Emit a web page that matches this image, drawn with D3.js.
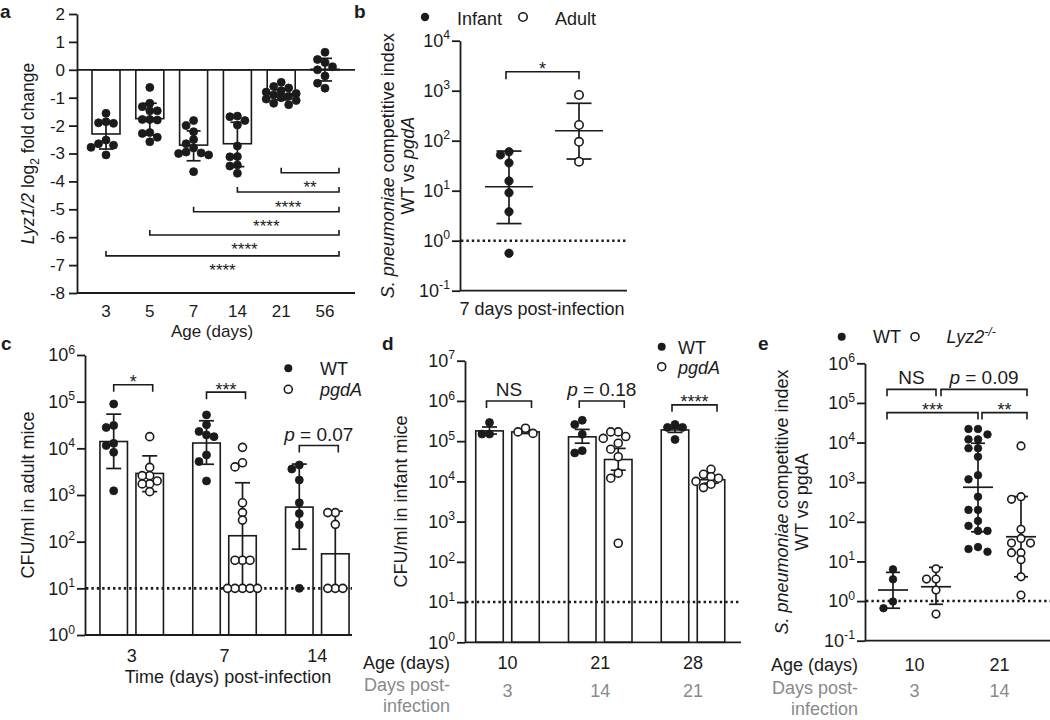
<!DOCTYPE html>
<html><head><meta charset="utf-8">
<script src="https://cdn.jsdelivr.net/npm/d3@7"></script>
<style>
body{margin:0;background:#fff;}
svg{font-family:"Liberation Sans",Arial,Helvetica,sans-serif;}
text{white-space:pre;}
</style></head><body>
<svg id="chart" width="1050" height="720"></svg>
<script>
// ================= DATA =================
// Panel a: Lyz1/2 log2 fold change by age
const aAges = ["3","5","7","14","21","56"];
const aMean = [-2.3,-1.75,-2.7,-2.65,-0.87,0.02];
const aSdHigh = [-1.9,-1.2,-2.19,-1.88,-0.72,0.41];
const aSdLow = [-2.84,-2.34,-3.26,-3.47,-1.08,-0.4];
const aPoints = [
  [-1.56,-1.86,-1.9,-1.92,-2.52,-2.65,-2.7,-2.78,-3.05],
  [-0.63,-1.2,-1.32,-1.47,-1.47,-1.78,-1.78,-1.8,-2.25,-2.28,-2.42,-2.58],
  [-1.82,-2.0,-2.22,-2.5,-2.65,-2.8,-2.95,-2.98,-3.0,-3.05,-3.65],
  [-1.66,-1.68,-1.82,-1.98,-2.73,-3.11,-3.12,-3.41,-3.45,-3.71],
  [-0.45,-0.6,-0.65,-0.75,-0.8,-0.85,-0.9,-0.95,-1.0,-1.05,-1.1,-1.2,-1.25],
  [0.63,0.37,0.26,0.11,0,-0.22,-0.48,-0.66]
];
const aCompFrom = ["21","14","7","5","3"];
const aCompTo = "56";
const aCompLabel = ["**","****","****","****","****"];
const aCompY = [-3.69,-4.38,-5.09,-5.92,-6.67];
const aTicks = [-8,-7,-6,-5,-4,-3,-2,-1,0,1,2];

// Panel b: competitive index at 7 days post-infection
const bGroups = ["Infant","Adult"];
const bMean = [12,158];
const bHigh = [62,560];
const bLow = [2.2,43];
const bPoints = [[60,52,36,15.6,9.1,3.8,0.56],[820,206,95,38]];
const bSigLabel = "*";
const bSigY = 2400;
const bExp = [-1,0,1,2,3,4];

// Panel c: CFU/ml in adult mice
const cDays = ["3","7","14"];
const cSeries = ["WT","pgdA"];
const cBar = {WT:[1.4e4,1.3e4,550], pgdA:[2900,134,55]};
const cHigh = {WT:[5.4e4,3.9e4,4600], pgdA:[6900,1830,450]};
const cLow = {WT:[3700,4560,69], pgdA:[1180,10,10]};
const cPoints = {
  WT:[[8.9e4,3.1e4,2.8e4,1.28e4,1.15e4,8200,1230],
      [5.2e4,3.2e4,2.3e4,1.94e4,1.78e4,7200,5200,2000],
      [4400,3600,2100,680,400,230,10]],
  pgdA:[[1.78e4,3900,2600,2600,2000,1730,1730,1180],
        [1.05e4,4900,4000,680,420,290,40,40,40,10,10,10,10,10],
        [420,420,235,10,10,10]]
};
const cSigLabel = ["*","***","p = 0.07"];
const cSigY = [2.3e5,1.6e5,1.15e4];
const cExp = [0,1,2,3,4,5,6];

// Panel d: CFU/ml in infant mice
const dAges = ["10","21","28"];
const dDpi = ["3","14","21"];
const dBar = {WT:[1.8e5,1.28e5,1.9e5], pgdA:[1.7e5,3.5e4,1.1e4]};
const dHigh = {WT:[2.25e5,1.96e5,2.1e5], pgdA:[1.85e5,6.6e4,1.3e4]};
const dLow = {WT:[1.5e5,8.9e4,1.65e5], pgdA:[1.55e5,1.9e4,9e3]};
const dPoints = {
  WT:[[2.9e5,1.5e5,1.5e5],[3.3e5,2.6e5,1.48e5,5.8e4,5.1e4],[2.6e5,2.2e5,2.2e5,1.1e5]],
  pgdA:[[2.1e5,1.7e5,1.56e5],[1.7e5,1.7e5,1.3e5,1.17e5,8.9e4,6.3e4,4.1e4,1.6e4,1.2e4,290],
        [2.0e4,1.5e4,1.3e4,1.2e4,1.0e4,8.5e3,7e3]]
};
const dSigLabel = ["NS","p = 0.18","****"];
const dSigY = [1e6,1e6,8e5];
const dExp = [0,1,2,3,4,5,6,7];

// Panel e: competitive index WT vs Lyz2-/-
const eAges = ["10","21"];
const eDpi = ["3","14"];
const eSeries = ["WT","Lyz2"];
const eMean = {WT:[1.9,745], Lyz2:[2.3,42]};
const eHigh = {WT:[5.3,9600], Lyz2:[7.1,435]};
const eLow = {WT:[0.66,56], Lyz2:[0.83,4.1]};
const ePoints = {
  WT:[[6.3,3.55,0.97,0.66],
      [2.2e4,2.2e4,1.6e4,1.2e4,1.2e4,7200,7200,4400,1500,1180,430,200,200,105,79,59,59,23,20.6,17.6]],
  Lyz2:[[6.5,3.6,3.6,1.9,0.47],
        [8200,430,370,65,38,29,29,16.6,16.6,11,4.1,1.42]]
};
const eComps = [
  {a:["WT","10"], b:["Lyz2","10"], label:"NS", y:2.2e5},
  {a:["Lyz2","10"], b:["Lyz2","21"], label:"p = 0.09", y:2.2e5},
  {a:["WT","10"], b:["WT","21"], label:"***", y:5.7e4},
  {a:["WT","21"], b:["Lyz2","21"], label:"**", y:5.7e4}
];
const eExp = [-1,0,1,2,3,4,5,6];

// ================= DRAWING =================
const INK = "#1b1b1b";
const GRAY = "#8a8a8a";
const FS = 18;
const svg = d3.select("#chart");
svg.append("rect").attr("width",1050).attr("height",720).attr("fill","#fff");

function rich(g, parts, size) {
  const t = g.append("text").attr("font-size", size).attr("fill", INK);
  let shift = 0;
  parts.forEach(p => {
    const s = (typeof p === "string") ? {t:p} : p;
    const target = s.sup ? -0.4*size : (s.sub ? 0.3*size : 0);
    const ts = t.append("tspan").text(s.t);
    if (target !== shift) { ts.attr("dy", target - shift); shift = target; }
    if (s.sup || s.sub) ts.attr("font-size", size*0.68);
    if (s.i) ts.attr("font-style","italic");
  });
  return t;
}
function sigParts(label) {
  if (label.startsWith("p ")) return [{t:"p",i:true}, label.slice(1)];
  return [label];
}
function line(g, x1, y1, x2, y2, w) {
  return g.append("line").attr("x1",x1).attr("y1",y1).attr("x2",x2).attr("y2",y2)
    .attr("stroke",INK).attr("stroke-width",w||1.7);
}
function styleAxis(ax) {
  ax.attr("font-size",null).attr("font-family",null);
  ax.select(".domain").attr("stroke",INK).attr("stroke-width",1.8);
  ax.selectAll(".tick line").attr("stroke",INK).attr("stroke-width",1.8);
  ax.selectAll(".tick text").attr("fill",INK);
}
function logAxis(g, y, x0, exps, size) {
  const axis = d3.axisLeft(y).tickValues(exps.map(e => Math.pow(10,e)))
    .tickSize(8).tickSizeOuter(0).tickPadding(2).tickFormat(() => "");
  const ax = g.append("g").attr("transform",`translate(${x0},0)`).call(axis);
  styleAxis(ax);
  ax.selectAll(".tick text").each(function(d) {
    const t = d3.select(this).attr("font-size", size);
    const e = Math.round(Math.log10(d));
    t.append("tspan").text("10");
    t.append("tspan").attr("font-size", size*0.68).attr("dy", -0.42*size).text(String(e));
  });
  return ax;
}
function swarm(vals, yFn, cx, r, step, maxK) {
  const sorted = vals.slice().sort((p,q) => q - p);
  const placed = [];
  const offs = [0];
  for (let k = 1; k <= maxK; k++) { offs.push(-k*step, k*step); }
  sorted.forEach(v => {
    const y = yFn(v);
    let best = null, bestD = -1;
    for (const o of offs) {
      let md = Infinity;
      placed.forEach(p => { const dd = Math.hypot(p.x-(cx+o), p.y-y); if (dd < md) md = dd; });
      if (md >= 2*r*0.92) { best = o; bestD = md; break; }
      if (md > bestD) { bestD = md; best = o; }
    }
    placed.push({x:cx+best, y:y, v:v});
  });
  return placed;
}
function dots(g, pts, r, filled) {
  g.selectAll(null).data(pts).join("circle")
    .attr("cx", d => d.x).attr("cy", d => d.y).attr("r", r)
    .attr("fill", filled ? INK : "#fff")
    .attr("stroke", INK).attr("stroke-width", filled ? 0.8 : 1.6);
}
function errBar(g, x, yHi, yLo, cap) {
  line(g, x, yHi, x, yLo);
  line(g, x-cap/2, yHi, x+cap/2, yHi);
  line(g, x-cap/2, yLo, x+cap/2, yLo);
}
function bracket(g, x1, x2, y, dir, h) {
  g.append("path").attr("d",`M${x1},${y+dir*h}L${x1},${y}L${x2},${y}L${x2},${y+dir*h}`)
    .attr("fill","none").attr("stroke",INK).attr("stroke-width",1.6);
}
function sigLabel(g, label, x, y, size) {
  const isStar = /^\*+$/.test(label);
  const t = rich(g, sigParts(label), size).attr("text-anchor","middle");
  t.attr("x", x).attr("y", isStar ? y + 3.5 : y - 5);
  return t;
}
function dotted(g, x1, x2, y) {
  line(g, x1, y, x2, y, 2.6).attr("stroke-dasharray","2.4,3").attr("stroke",INK);
}
function panelLabel(txt, x, y) {
  svg.append("text").attr("x",x).attr("y",y).attr("font-size",19).attr("font-weight","bold")
    .attr("fill",INK).text(txt);
}

// ---------- Panel a ----------
{
  const g = svg.append("g");
  const y = d3.scaleLinear().domain([-8,2]).range([293,14]);
  const x = d3.scalePoint().domain(aAges).range([106,325]);
  const bw = 28;
  const ax = g.append("g").attr("transform","translate(77,0)")
    .call(d3.axisLeft(y).tickValues(aTicks).tickSize(8).tickSizeOuter(0).tickPadding(4).tickFormat(d => String(d)));
  styleAxis(ax);
  ax.selectAll(".tick text").attr("font-size",17);
  line(g, 77, 293, 355, 293, 1.8);
  g.selectAll(null).data(aAges).join("rect")
    .attr("x", d => x(d) - bw/2).attr("width", bw)
    .attr("y", (d,i) => Math.min(y(0), y(aMean[i])))
    .attr("height", (d,i) => Math.abs(y(aMean[i]) - y(0)))
    .attr("fill","#fff").attr("stroke",INK).attr("stroke-width",1.6);
  line(g, 77, y(0), 355, y(0), 1.8);
  aAges.forEach((c,i) => errBar(g, x(c), y(aSdHigh[i]), y(aSdLow[i]), 14));
  aAges.forEach((c,i) => dots(g, swarm(aPoints[i], y, x(c), 4, 7.5, 2), 4, true));
  aCompFrom.forEach((f,i) => {
    const x1 = x(f), x2 = x(aCompTo) + bw/2, yy = y(aCompY[i]);
    bracket(g, x1, x2, yy, -1, 5);
    g.append("text").attr("x",(x1+x2)/2).attr("y",yy+20.5).attr("text-anchor","middle")
      .attr("font-size",17).attr("fill",INK).text(aCompLabel[i]);
  });
  g.selectAll(null).data(aAges).join("text").attr("x", d => x(d)).attr("y",317)
    .attr("text-anchor","middle").attr("font-size",17).attr("fill",INK).text(d => d);
  g.append("text").attr("x",212).attr("y",337).attr("text-anchor","middle")
    .attr("font-size",17).attr("fill",INK).text("Age (days)");
  rich(g, [{t:"Lyz1/2",i:true}," log",{t:"2",sub:true}," fold change"], 17.5)
    .attr("text-anchor","middle").attr("transform","translate(33.5,153.5) rotate(-90)");
  panelLabel("a", 0, 18);
}

// ---------- Panel b ----------
{
  const g = svg.append("g");
  const y = d3.scaleLog().domain([0.1,1e4]).range([290.7,40.7]);
  const x = d3.scalePoint().domain(bGroups).range([509,579]);
  logAxis(g, y, 460, bExp, FS);
  line(g, 460, 290.7, 627, 290.7, 1.8);
  dotted(g, 461, 627, y(1));
  bGroups.forEach((c,i) => {
    errBar(g, x(c), y(bHigh[i]), y(bLow[i]), 25);
    line(g, x(c)-24, y(bMean[i]), x(c)+24, y(bMean[i]));
    dots(g, swarm(bPoints[i], y, x(c), 4.2, 8.5, 2), 4.2, i === 0);
  });
  const x1 = x("Infant") - 3, x2 = x("Adult");
  bracket(g, x1, x2, y(bSigY), 1, 7.5);
  sigLabel(g, bSigLabel, (x1+x2)/2, y(bSigY), FS);
  g.append("text").attr("x",542).attr("y",314.5).attr("text-anchor","middle")
    .attr("font-size",FS).attr("fill",INK).text("7 days post-infection");
  rich(g, [{t:"S. pneumoniae",i:true}," competitive index"], FS)
    .attr("text-anchor","middle").attr("transform","translate(393.5,165.7) rotate(-90)");
  rich(g, ["WT vs ",{t:"pgdA",i:true}], FS)
    .attr("text-anchor","middle").attr("transform","translate(413.5,165.7) rotate(-90)");
  // legend
  g.append("circle").attr("cx",425).attr("cy",17).attr("r",4.2).attr("fill",INK);
  g.append("text").attr("x",457).attr("y",24.5).attr("font-size",FS).attr("fill",INK).text(bGroups[0]);
  g.append("circle").attr("cx",523).attr("cy",17).attr("r",4.2).attr("fill","#fff").attr("stroke",INK).attr("stroke-width",1.6);
  g.append("text").attr("x",555).attr("y",24.5).attr("font-size",FS).attr("fill",INK).text(bGroups[1]);
  panelLabel("b", 354, 18);
}

// ---------- Panel c ----------
{
  const g = svg.append("g");
  const y = d3.scaleLog().domain([1,1e6]).range([635,355]);
  const x = d3.scalePoint().domain(cDays).range([131.7,317.3]);
  const sub = d3.scalePoint().domain(cSeries).range([-18,18]);
  const bw = 27.5;
  logAxis(g, y, 85, cExp, FS);
  cSeries.forEach(s => {
    g.selectAll(null).data(cDays).join("rect")
      .attr("x", d => x(d) + sub(s) - bw/2).attr("width", bw)
      .attr("y", (d,i) => y(cBar[s][i])).attr("height", (d,i) => y(1) - y(cBar[s][i]))
      .attr("fill","#fff").attr("stroke",INK).attr("stroke-width",1.6);
  });
  line(g, 85, 635, 352, 635, 1.8);
  dotted(g, 86, 352, y(10));
  cSeries.forEach((s,si) => cDays.forEach((c,i) => {
    const cx = x(c) + sub(s);
    errBar(g, cx, y(cHigh[s][i]), y(cLow[s][i]), 15);
    dots(g, swarm(cPoints[s][i], y, cx, 4, 7.5, 2), 4, si === 0);
  }));
  cDays.forEach((c,i) => {
    const x1 = x(c) + sub("WT"), x2 = x(c) + sub("pgdA") + 3, yy = y(cSigY[i]);
    bracket(g, x1, x2, yy, 1, 7);
    sigLabel(g, cSigLabel[i], (x1+x2)/2, yy, cSigLabel[i].startsWith("p") ? 19 : FS);
  });
  g.selectAll(null).data(cDays).join("text").attr("x", d => x(d)).attr("y",662)
    .attr("text-anchor","middle").attr("font-size",FS).attr("fill",INK).text(d => d);
  g.append("text").attr("x",228).attr("y",683).attr("text-anchor","middle")
    .attr("font-size",FS).attr("fill",INK).text("Time (days) post-infection");
  g.append("text").attr("text-anchor","middle").attr("font-size",FS).attr("fill",INK)
    .attr("transform","translate(33.5,495) rotate(-90)").text("CFU/ml in adult mice");
  g.append("circle").attr("cx",288.3).attr("cy",368.3).attr("r",4).attr("fill",INK);
  g.append("text").attr("x",320).attr("y",375).attr("font-size",FS).attr("fill",INK).text("WT");
  g.append("circle").attr("cx",288.3).attr("cy",389.3).attr("r",4).attr("fill","#fff").attr("stroke",INK).attr("stroke-width",1.6);
  g.append("text").attr("x",320).attr("y",396).attr("font-size",FS).attr("font-style","italic").attr("fill",INK).text("pgdA");
  panelLabel("c", 1, 350);
}

// ---------- Panel d ----------
{
  const g = svg.append("g");
  const y = d3.scaleLog().domain([1,1e7]).range([642.3,360.7]);
  const x = d3.scalePoint().domain(dAges).range([507.5,693]);
  const sub = d3.scalePoint().domain(cSeries).range([-18,18]);
  const bw = 27.5;
  logAxis(g, y, 465, dExp, FS);
  cSeries.forEach(s => {
    g.selectAll(null).data(dAges).join("rect")
      .attr("x", d => x(d) + sub(s) - bw/2).attr("width", bw)
      .attr("y", (d,i) => y(dBar[s][i])).attr("height", (d,i) => y(1) - y(dBar[s][i]))
      .attr("fill","#fff").attr("stroke",INK).attr("stroke-width",1.6);
  });
  line(g, 465, 642.3, 741, 642.3, 1.8);
  dotted(g, 466, 741, y(10));
  cSeries.forEach((s,si) => dAges.forEach((c,i) => {
    const cx = x(c) + sub(s);
    errBar(g, cx, y(dHigh[s][i]), y(dLow[s][i]), 15);
    dots(g, swarm(dPoints[s][i], y, cx, 4, 7.5, 2), 4, si === 0);
  }));
  dAges.forEach((c,i) => {
    const x1 = x(c) + sub("WT") - 3, x2 = x(c) + sub("pgdA") + 6, yy = y(dSigY[i]);
    bracket(g, x1, x2, yy, 1, 7);
    sigLabel(g, dSigLabel[i], (x1+x2)/2, yy, dSigLabel[i].startsWith("*") ? FS : 19);
  });
  g.selectAll(null).data(dAges).join("text").attr("x", d => x(d)).attr("y",669)
    .attr("text-anchor","middle").attr("font-size",FS).attr("fill",INK).text(d => d);
  g.selectAll(null).data(dDpi).join("text").attr("x", (d,i) => x(dAges[i])).attr("y",697)
    .attr("text-anchor","middle").attr("font-size",FS).attr("fill",GRAY).text(d => d);
  g.append("text").attr("x",450).attr("y",669).attr("text-anchor","end")
    .attr("font-size",FS).attr("fill",INK).text("Age (days)");
  g.append("text").attr("x",450).attr("y",691).attr("text-anchor","end")
    .attr("font-size",FS).attr("fill",GRAY).text("Days post-");
  g.append("text").attr("x",450).attr("y",712).attr("text-anchor","end")
    .attr("font-size",FS).attr("fill",GRAY).text("infection");
  g.append("text").attr("text-anchor","middle").attr("font-size",FS).attr("fill",INK)
    .attr("transform","translate(406.5,501.5) rotate(-90)").text("CFU/ml in infant mice");
  g.append("circle").attr("cx",661.7).attr("cy",346.7).attr("r",4).attr("fill",INK);
  g.append("text").attr("x",678).attr("y",353.5).attr("font-size",FS).attr("fill",INK).text("WT");
  g.append("circle").attr("cx",661.7).attr("cy",366.7).attr("r",4).attr("fill","#fff").attr("stroke",INK).attr("stroke-width",1.6);
  g.append("text").attr("x",678).attr("y",373.5).attr("font-size",FS).attr("font-style","italic").attr("fill",INK).text("pgdA");
  panelLabel("d", 382, 350);
}

// ---------- Panel e ----------
{
  const g = svg.append("g");
  const y = d3.scaleLog().domain([0.1,1e6]).range([640.7,363.3]);
  const x = d3.scalePoint().domain(eAges).range([914.5,999.5]);
  const sub = d3.scalePoint().domain(eSeries).range([-21.5,21.5]);
  logAxis(g, y, 865, eExp, FS);
  line(g, 865, 640.7, 1050, 640.7, 1.8);
  dotted(g, 866, 1050, y(1));
  eSeries.forEach((s,si) => eAges.forEach((c,i) => {
    const cx = x(c) + sub(s);
    errBar(g, cx, y(eHigh[s][i]), y(eLow[s][i]), 14);
    line(g, cx-15, y(eMean[s][i]), cx+15, y(eMean[s][i]));
    dots(g, swarm(ePoints[s][i], y, cx, 3.8, 9.5, 1), 3.8, si === 0);
  }));
  eComps.forEach((cmp, k) => {
    let x1 = x(cmp.a[1]) + sub(cmp.a[0]), x2 = x(cmp.b[1]) + sub(cmp.b[0]);
    if (k === 0) { x1 -= 6; }
    if (k === 1) { x1 += 5; x2 += 6; }
    if (k === 2) { x1 -= 6; }
    if (k === 3) { x1 += 4; x2 += 6; }
    const yy = y(cmp.y);
    bracket(g, x1, x2, yy, 1, 7);
    sigLabel(g, cmp.label, (x1+x2)/2, yy, cmp.label.startsWith("*") ? FS : 19);
  });
  g.selectAll(null).data(eAges).join("text").attr("x", d => x(d)).attr("y",671)
    .attr("text-anchor","middle").attr("font-size",FS).attr("fill",INK).text(d => d);
  g.selectAll(null).data(eDpi).join("text").attr("x", (d,i) => x(eAges[i])).attr("y",697)
    .attr("text-anchor","middle").attr("font-size",FS).attr("fill",GRAY).text(d => d);
  g.append("text").attr("x",858).attr("y",671).attr("text-anchor","end")
    .attr("font-size",FS).attr("fill",INK).text("Age (days)");
  g.append("text").attr("x",858).attr("y",693.5).attr("text-anchor","end")
    .attr("font-size",FS).attr("fill",GRAY).text("Days post-");
  g.append("text").attr("x",858).attr("y",714.5).attr("text-anchor","end")
    .attr("font-size",FS).attr("fill",GRAY).text("infection");
  rich(g, [{t:"S. pneumoniae",i:true}," competitive index"], FS)
    .attr("text-anchor","middle").attr("transform","translate(788,502) rotate(-90)");
  rich(g, ["WT vs pgdA"], FS)
    .attr("text-anchor","middle").attr("transform","translate(808,502) rotate(-90)");
  g.append("circle").attr("cx",841.7).attr("cy",336.7).attr("r",4).attr("fill",INK);
  g.append("text").attr("x",873).attr("y",343).attr("font-size",FS).attr("fill",INK).text("WT");
  g.append("circle").attr("cx",915).attr("cy",336.7).attr("r",4).attr("fill","#fff").attr("stroke",INK).attr("stroke-width",1.6);
  rich(g, [{t:"Lyz2",i:true},{t:"-/-",i:true,sup:true}], FS).attr("x",946.5).attr("y",343);
  panelLabel("e", 758, 350);
}
</script>
</body></html>
